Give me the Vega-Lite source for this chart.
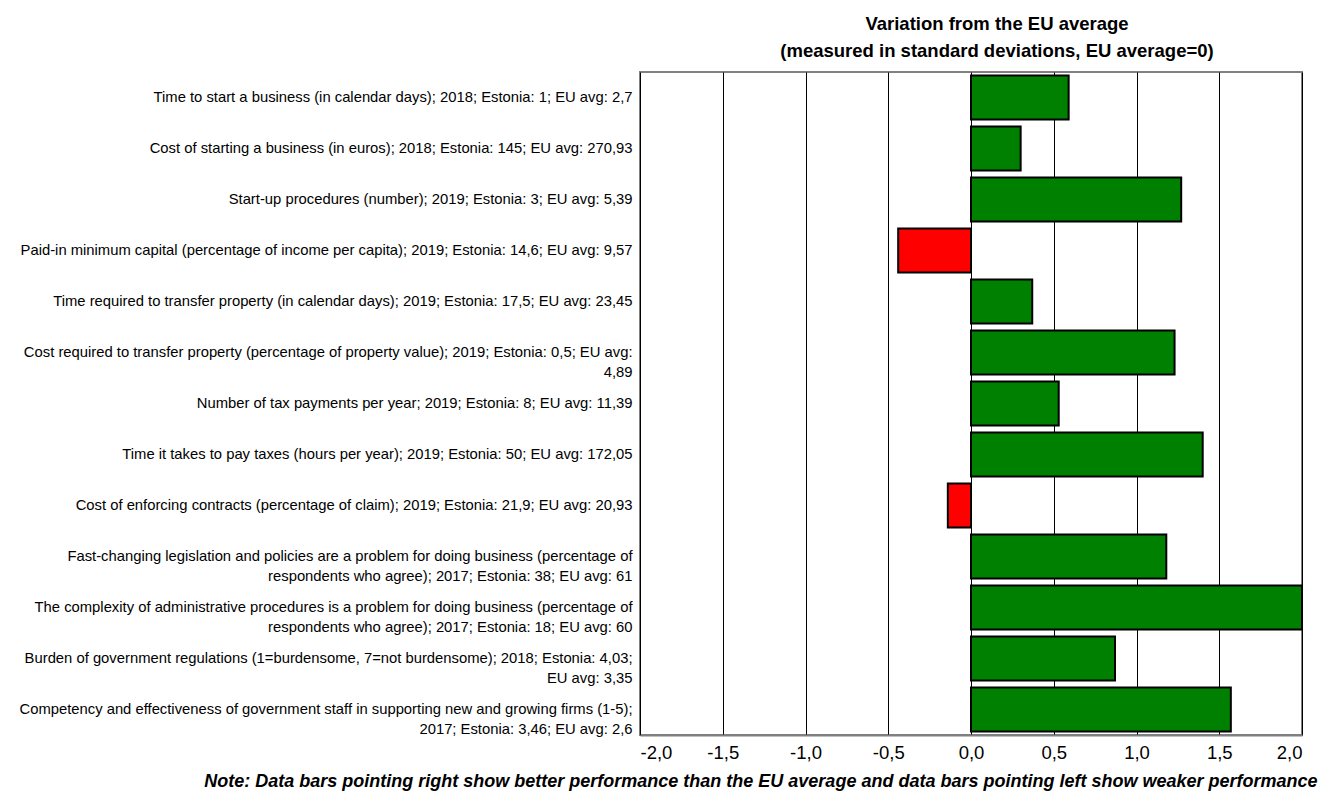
{
  "$schema": "https://vega.github.io/schema/vega-lite/v6.json",
  "autosize": {"type": "none"},
  "width": 662,
  "height": 663,
  "padding": {"left": 640, "top": 72, "right": 17, "bottom": 57},
  "background": "white",
  "title": {
    "text": ["Variation from the EU average", "(measured in standard deviations, EU average=0)"],
    "font": "Liberation Sans Narrow, Arial Narrow, Liberation Sans, sans-serif",
    "fontSize": 18.5,
    "fontWeight": "bold",
    "color": "black",
    "anchor": "middle",
    "dx": 26,
    "lineHeight": 27,
    "offset": 12
  },
  "data": {
    "values": [
      {"label": "Time to start a business (in calendar days); 2018; Estonia: 1; EU avg: 2,7", "value": 0.59},
      {"label": "Cost of starting a business (in euros); 2018; Estonia: 145; EU avg: 270,93", "value": 0.30},
      {"label": "Start-up procedures (number); 2019; Estonia: 3; EU avg: 5,39", "value": 1.27},
      {"label": "Paid-in minimum capital (percentage of income per capita); 2019; Estonia: 14,6; EU avg: 9,57", "value": -0.44},
      {"label": "Time required to transfer property (in calendar days); 2019; Estonia: 17,5; EU avg: 23,45", "value": 0.37},
      {"label": "Cost required to transfer property (percentage of property value); 2019; Estonia: 0,5; EU avg:\n4,89", "value": 1.23},
      {"label": "Number of tax payments per year; 2019; Estonia: 8; EU avg: 11,39", "value": 0.53},
      {"label": "Time it takes to pay taxes (hours per year); 2019; Estonia: 50; EU avg: 172,05", "value": 1.40},
      {"label": "Cost of enforcing contracts (percentage of claim); 2019; Estonia: 21,9; EU avg: 20,93", "value": -0.14},
      {"label": "Fast-changing legislation and policies are a problem for doing business (percentage of\nrespondents who agree); 2017; Estonia: 38; EU avg: 61", "value": 1.18},
      {"label": "The complexity of administrative procedures is a problem for doing business (percentage of\nrespondents who agree); 2017; Estonia: 18; EU avg: 60", "value": 2.0},
      {"label": "Burden of government regulations (1=burdensome, 7=not burdensome); 2018; Estonia: 4,03;\nEU avg: 3,35", "value": 0.87},
      {"label": "Competency and effectiveness of government staff in supporting new and growing firms (1-5);\n2017; Estonia: 3,46; EU avg: 2,6", "value": 1.57}
    ]
  },
  "mark": {"type": "bar", "stroke": "black", "strokeWidth": 2},
  "encoding": {
    "y": {
      "field": "label",
      "type": "nominal",
      "sort": null,
      "scale": {"paddingInner": 0.14, "paddingOuter": 0.07},
      "axis": {
        "title": null,
        "domain": false,
        "ticks": false,
        "grid": false,
        "labelExpr": "split(datum.value, '\\n')",
        "labelFont": "Liberation Sans Narrow, Arial Narrow, Liberation Sans, sans-serif",
        "labelFontSize": 14.8,
        "labelColor": "black",
        "labelLimit": 0,
        "labelPadding": 8,
        "labelLineHeight": 20
      }
    },
    "x": {
      "field": "value",
      "type": "quantitative",
      "scale": {"domain": [-2, 2], "nice": false},
      "axis": {
        "values": [-2, -1.5, -1, -0.5, 0, 0.5, 1, 1.5, 2],
        "labelExpr": "replace(replace(format(datum.value, '.1f'), '.', ','), '\u2212', '-')",
        "labelFont": "Liberation Sans Narrow, Arial Narrow, Liberation Sans, sans-serif",
        "labelFontSize": 18.5,
        "labelColor": "black",
        "labelPadding": 8,
        "ticks": false,
        "domainColor": "#808080",
        "domainWidth": 2,
        "grid": true,
        "gridColor": "black",
        "gridWidth": 1,
        "gridOpacity": 1,
        "title": "Note: Data bars pointing right show better performance than the EU average and data bars pointing left show weaker performance",
        "titleFont": "Liberation Sans Narrow, Arial Narrow, Liberation Sans, sans-serif",
        "titleFontSize": 18,
        "titleFontWeight": "bold",
        "titleFontStyle": "italic",
        "titleColor": "black",
        "titleAnchor": "end",
        "titleAlign": "right",
        "titleX": 677,
        "titleY": 46,
        "titleBaseline": "middle"
      }
    },
    "fill": {
      "condition": {"test": "datum.value < 0", "value": "#FF0000"},
      "value": "#008000"
    }
  },
  "config": {
    "view": {"stroke": "#808080", "strokeWidth": 2},
    "bar": {"fillOpacity": 1}
  }
}
